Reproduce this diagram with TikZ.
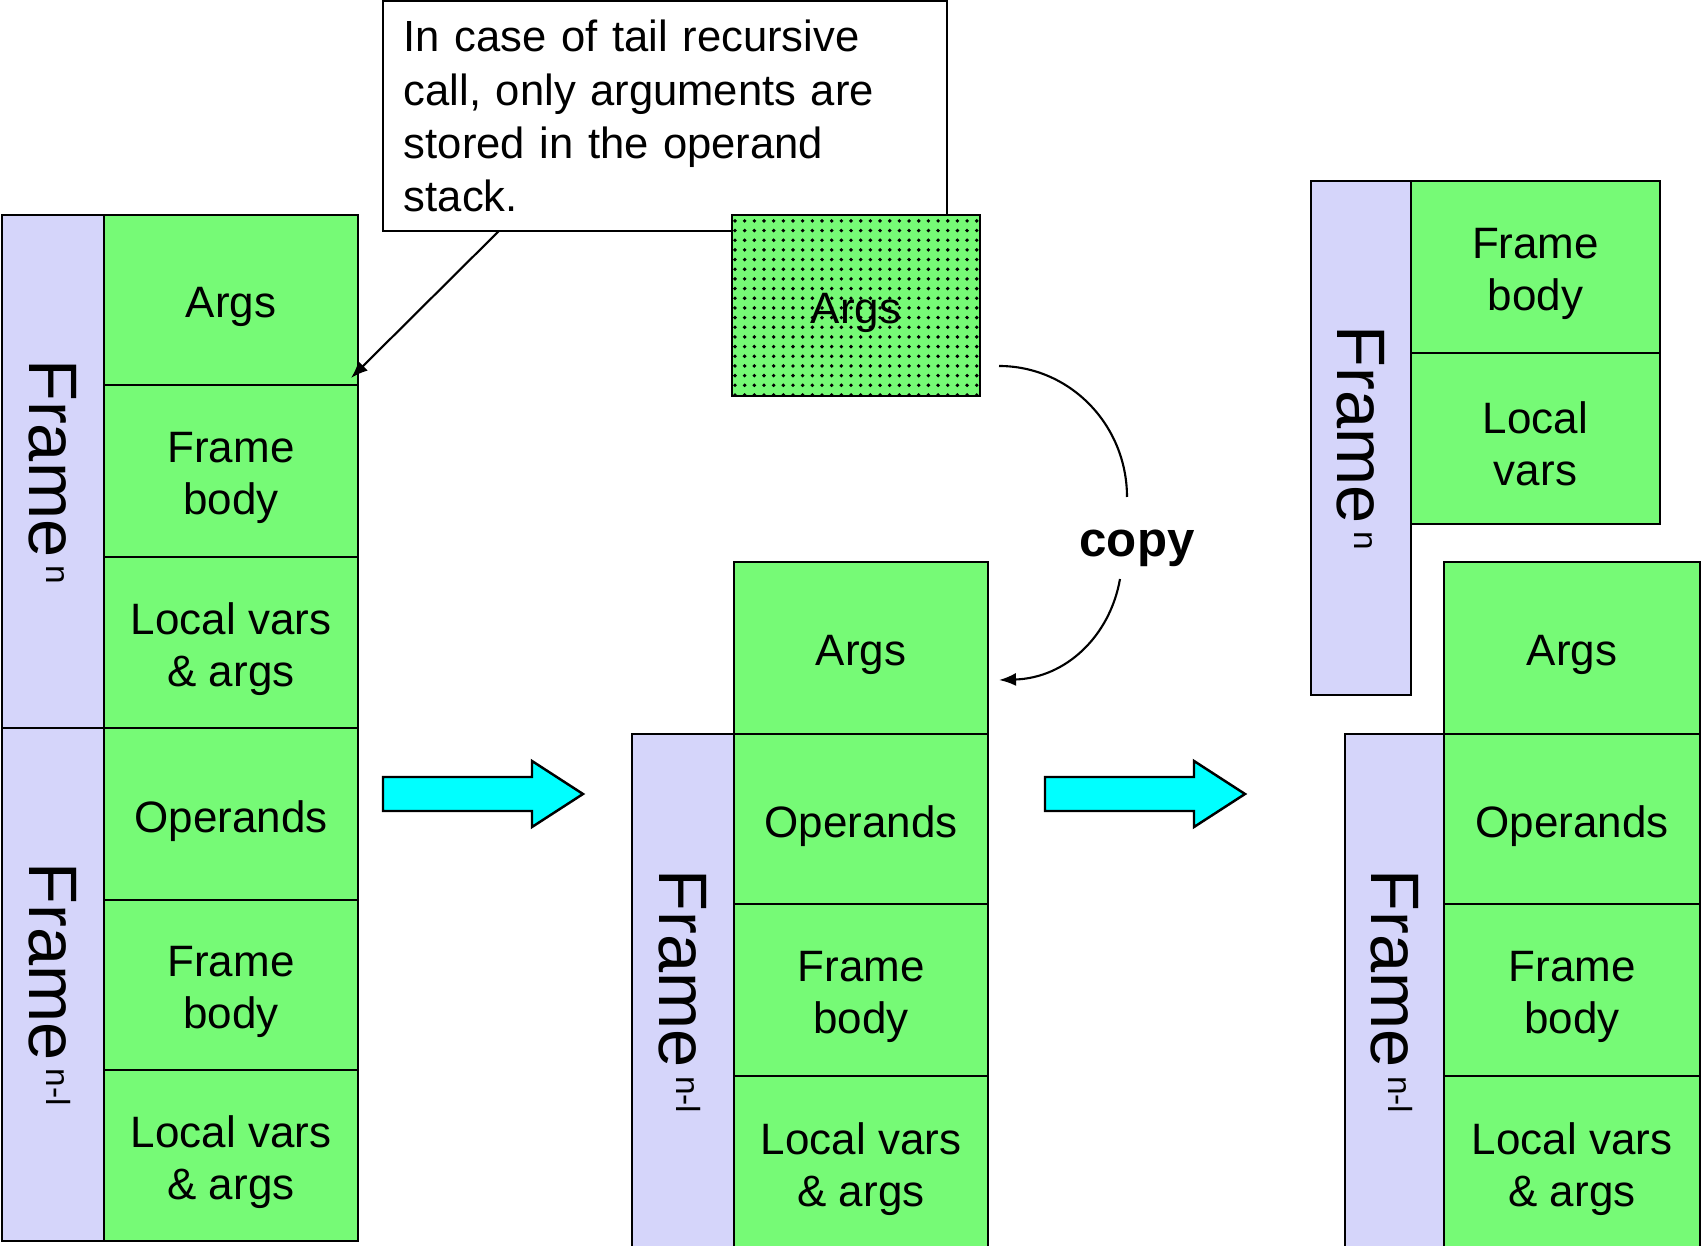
\documentclass[tikz,border=0pt]{standalone}
\usepackage{fontspec}
\setmainfont{Liberation Sans}
\usetikzlibrary{patterns,patterns.meta,arrows.meta,calc}
\definecolor{boxgreen}{RGB}{118,250,118}
\definecolor{framepurple}{RGB}{213,213,250}
\definecolor{arrowcyan}{RGB}{0,255,255}
% name, style, x1,y1,x2,y2, text
\newcommand\mkbox[7]{%
  \node[#2, minimum width={(#5-#3)*0.01cm}, minimum height={(#6-#4)*0.01cm}] (#1) at ({(#3+#5)/2},{(#4+#6)/2}) {};
  \node[celltext] (#1t) at (#1.center) {#7};}
% name, x1,y1,x2,y2
\newcommand\mkcol[5]{%
  \node[fcol, minimum width={(#4-#2)*0.01cm}, minimum height={(#5-#3)*0.01cm}] (#1) at ({(#2+#4)/2},{(#3+#5)/2}) {};}
\newcommand\flab[1]{Frame\hspace{0.08cm}\raisebox{0.17cm}{\fontsize{9.5}{10}\selectfont #1}}
\tikzset{
  cell/.style={draw=black, line width=0.7pt, fill=boxgreen, inner sep=0pt, outer sep=0pt},
  celltext/.style={inner sep=0pt, align=center, yshift=-0.07cm, font=\fontsize{12.5}{14.8}\selectfont},
  fcol/.style={draw=black, line width=0.7pt, fill=framepurple, inner sep=0pt, outer sep=0pt},
  flabel/.style={rotate=-90, font=\fontsize{19.5}{21}\selectfont, inner sep=0pt},
  blockarrow/.style={draw=black, line width=0.7pt, fill=arrowcyan},
  thinarrow/.style={draw=black, line width=0.6pt, -{Latex[length=0.17cm,width=0.13cm]}},
  dotted box/.style={draw=black, line width=0.7pt, fill=boxgreen, inner sep=0pt, outer sep=0pt,
    postaction={pattern={Dots[distance=2.75pt,radius=0.55pt]}, pattern color=black}},
}
\begin{document}
\begin{tikzpicture}[x=0.01cm,y=-0.01cm]
\path[use as bounding box] (0,0) rectangle (1702,1246);
\clip (0,0) rectangle (1702,1246);

% ---------- left stack ----------
\mkcol{Lpn}{2}{215}{104}{728}
\mkcol{Lpm}{2}{728}{104}{1241}
\node[flabel] (Llabn) at (Lpn.center) {\flab{n}};
\node[flabel] (Llabm) at (Lpm.center) {\flab{n-l}};
\mkbox{La1}{cell}{104}{215}{358}{385}{Args}
\mkbox{La2}{cell}{104}{385}{358}{557}{Frame\\body}
\mkbox{La3}{cell}{104}{557}{358}{728}{Local vars\\\& args}
\mkbox{La4}{cell}{104}{728}{358}{900}{Operands}
\mkbox{La5}{cell}{104}{900}{358}{1070}{Frame\\body}
\mkbox{La6}{cell}{104}{1070}{358}{1241}{Local vars\\\& args}

% ---------- callout ----------
\node[draw=black, line width=0.5pt, fill=white, inner xsep=0.21cm, inner ysep=0pt, outer sep=0pt,
  minimum width=5.64cm, minimum height=2.30cm, text width=5.22cm, align=left,
  font=\fontsize{12.4}{15.1}\selectfont] (callout) at (665,116)
  {In case of tail recursive\\call, only arguments are\\stored in the operand\\stack.};
\coordinate (ctip) at (351,378);
\draw[thinarrow] ($(callout.south west)+(116,0)$) -- (ctip);

% ---------- dotted args ----------
\mkbox{dargs}{dotted box}{732}{215}{980}{396}{Args}

% ---------- block arrows ----------
\draw[blockarrow] (383,777) -- (532,777) -- (532,761) -- (583,794) -- (532,827) -- (532,811) -- (383,811) -- cycle;
\draw[blockarrow] (1045,777) -- (1194,777) -- (1194,761) -- (1245,794) -- (1194,827) -- (1194,811) -- (1045,811) -- cycle;

% ---------- middle stack ----------
\mkbox{Ma0}{cell}{734}{562}{988}{734}{Args}
\mkcol{Mpm}{632}{734}{734}{1249}
\node[flabel] (Mlabm) at (Mpm.center) {\flab{n-l}};
\mkbox{Ma1}{cell}{734}{734}{988}{904}{Operands}
\mkbox{Ma2}{cell}{734}{904}{988}{1076}{Frame\\body}
\mkbox{Ma3}{cell}{734}{1076}{988}{1249}{Local vars\\\& args}

% ---------- copy arrow ----------
\node[font=\bfseries\fontsize{14}{16}\selectfont, inner sep=0pt] (copy) at (1137,548) {copy};
\coordinate (cstart) at (999,366);
\coordinate (cmid1) at (1127,497);
\coordinate (cmid2) at (1120,579);
\coordinate (cend) at (999,680);
\draw[line width=0.6pt] (cstart) .. controls (1070,366) and (1127,425) .. (cmid1);
\draw[thinarrow] (cmid2) .. controls (1110,636) and (1066,678) .. (cend);

% ---------- right stack ----------
\mkcol{Rpn}{1311}{181}{1411}{695}
\node[flabel] (Rlabn) at (Rpn.center) {\flab{n}};
\mkbox{Rb1}{cell}{1411}{181}{1660}{353}{Frame\\body}
\node[cell, minimum width=2.49cm, minimum height=1.71cm] (Rb2) at (1535.5,438.5) {};
\node[celltext, yshift=0.02cm] (Rb2t) at (Rb2.center) {Local\\vars};
\mkbox{Ra0}{cell}{1444}{562}{1700}{734}{Args}
\mkcol{Rpm}{1345}{734}{1444}{1249}
\node[flabel] (Rlabm) at (Rpm.center) {\flab{n-l}};
\mkbox{Ra1}{cell}{1444}{734}{1700}{904}{Operands}
\mkbox{Ra2}{cell}{1444}{904}{1700}{1076}{Frame\\body}
\mkbox{Ra3}{cell}{1444}{1076}{1700}{1249}{Local vars\\\& args}
\end{tikzpicture}
\end{document}
